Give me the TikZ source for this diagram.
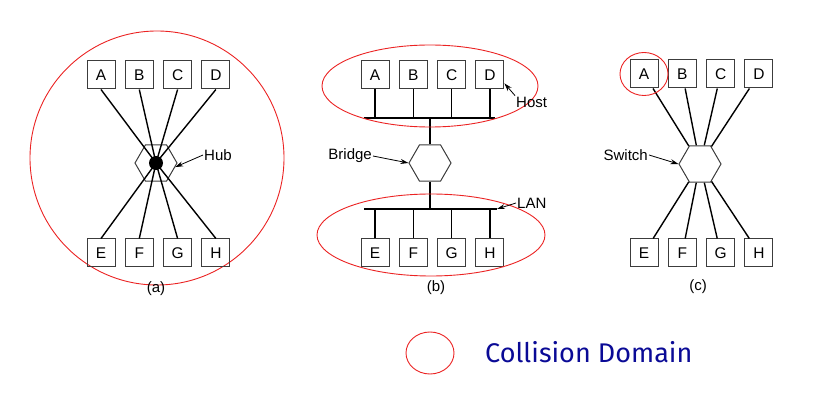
\documentclass[tikz,border=0pt]{standalone}
\usepackage{fontspec}
\usepackage{xcolor}
\usepackage{tikz}
\usetikzlibrary{shapes.geometric, arrows.meta, positioning}
\newfontfamily\figfont{Liberation Sans}
\newfontfamily\notefont{Fira Sans}
\definecolor{domainred}{RGB}{235, 35, 35}
\definecolor{notenavy}{RGB}{10, 10, 150}
\definecolor{boxgray}{RGB}{60, 60, 60}

\begin{document}
\begin{tikzpicture}[
  x=1pt, y=-1pt,
  node distance=9.3pt,
  host/.style={draw=boxgray, line width=1pt, minimum width=28pt,
               minimum height=28pt, inner sep=0pt, font=\figfont\fontsize{15.5}{18}\selectfont},
  hexbox/.style={draw=boxgray, line width=1pt, regular polygon,
                 regular polygon sides=6, minimum size=42pt, inner sep=0pt},
  wire/.style={line width=1.4pt},
  collision/.style={draw=domainred, line width=0.9pt},
  tag/.style={font=\figfont\fontsize{15}{18}\selectfont, inner sep=1pt},
  pointer/.style={-{Stealth[length=8pt, width=5pt]}, line width=0.8pt}
]
  \useasboundingbox (0,0) rectangle (828,414);

  % (a) hub
  \draw[collision] (157,158) circle [radius=127pt];
  \node[hexbox] (hub) at (156,163) {};
  \node[circle, fill=black, minimum size=14pt, inner sep=0pt] (hubdot) at (156,163) {};
  \node[host] (aA) at (101,75) {A};
  \node[host, right=of aA] (aB) {B};
  \node[host, right=of aB] (aC) {C};
  \node[host, right=of aC] (aD) {D};
  \node[host] (aE) at (101,253) {E};
  \node[host, right=of aE] (aF) {F};
  \node[host, right=of aF] (aG) {G};
  \node[host, right=of aG] (aH) {H};
  \draw[wire] (aA.south) -- (hubdot.center);
  \draw[wire] (aB.south) -- (hubdot.center);
  \draw[wire] (aC.south) -- (hubdot.center);
  \draw[wire] (aD.south) -- (hubdot.center);
  \draw[wire] (aE.north) -- (hubdot.center);
  \draw[wire] (aF.north) -- (hubdot.center);
  \draw[wire] (aG.north) -- (hubdot.center);
  \draw[wire] (aH.north) -- (hubdot.center);
  \node[tag, anchor=west] (hubtag) at (203,155) {Hub};
  \draw[pointer] (hubtag.west) -- (hub.-12);
  \node[tag] (capa) at (156,289) {(a)};

  % (b) bridge
  \node[host] (bA) at (375,75) {A};
  \node[host, right=of bA] (bB) {B};
  \node[host, right=of bB] (bC) {C};
  \node[host, right=of bC] (bD) {D};
  \node[host] (bE) at (375,253) {E};
  \node[host, right=of bE] (bF) {F};
  \node[host, right=of bF] (bG) {G};
  \node[host, right=of bG] (bH) {H};
  \node[hexbox] (bridge) at (430,163) {};
  \coordinate (toplanL) at (364,118);
  \coordinate (toplanR) at (495,118);
  \coordinate (botlanL) at (364,209);
  \coordinate (botlanR) at (497,209);
  \draw[wire] (toplanL) -- (toplanR);
  \draw[wire] (botlanL) -- (botlanR);
  \draw[wire] (bA.south) -- (bA.south |- toplanL);
  \draw[wire] (bB.south) -- (bB.south |- toplanL);
  \draw[wire] (bC.south) -- (bC.south |- toplanL);
  \draw[wire] (bD.south) -- (bD.south |- toplanL);
  \draw[wire] (bE.north) -- (bE.north |- botlanL);
  \draw[wire] (bF.north) -- (bF.north |- botlanL);
  \draw[wire] (bG.north) -- (bG.north |- botlanL);
  \draw[wire] (bH.north) -- (bH.north |- botlanL);
  \draw[wire] (bridge.north) -- (bridge.north |- toplanL);
  \draw[wire] (bridge.south) -- (bridge.south |- botlanL);
  \draw[collision] (430,86) ellipse [x radius=108pt, y radius=41pt];
  \draw[collision] (431,235) ellipse [x radius=114pt, y radius=41pt];
  \node[tag, anchor=west] (hosttag) at (515,102) {Host};
  \draw[pointer] (hosttag.north west) -- (bD.-30);
  \node[tag, anchor=east] (bridgetag) at (373,156) {Bridge};
  \draw[pointer] (bridgetag.east) -- (bridge.west);
  \node[tag, anchor=west] (lantag) at (516,203) {LAN};
  \draw[pointer] (lantag.west) -- (botlanR);
  \node[tag] (capb) at (436,288) {(b)};

  % (c) switch
  \node[host] (cA) at (644,74) {A};
  \node[host, right=of cA] (cB) {B};
  \node[host, right=of cB] (cC) {C};
  \node[host, right=of cC] (cD) {D};
  \node[host] (cE) at (644,253) {E};
  \node[host, right=of cE] (cF) {F};
  \node[host, right=of cF] (cG) {G};
  \node[host, right=of cG] (cH) {H};
  \node[hexbox] (switch) at (700,164) {};
  \draw[wire] (cA) -- (switch);
  \draw[wire] (cB) -- (switch);
  \draw[wire] (cC) -- (switch);
  \draw[wire] (cD) -- (switch);
  \draw[wire] (cE) -- (switch);
  \draw[wire] (cF) -- (switch);
  \draw[wire] (cG) -- (switch);
  \draw[wire] (cH) -- (switch);
  \draw[collision] (cA.center) ellipse [x radius=24pt, y radius=21.5pt];
  \node[tag, anchor=east] (switchtag) at (649,155) {Switch};
  \draw[pointer] (switchtag.east) -- (switch.west);
  \node[tag] (capc) at (698,287) {(c)};

  % legend
  \draw[collision] (430,353) ellipse [x radius=24pt, y radius=21pt];
  \node[anchor=west, inner sep=0pt, text=notenavy,
        font=\notefont\fontsize{27}{32}\selectfont] (note) at (485,352) {Collision Domain};
\end{tikzpicture}
\end{document}
